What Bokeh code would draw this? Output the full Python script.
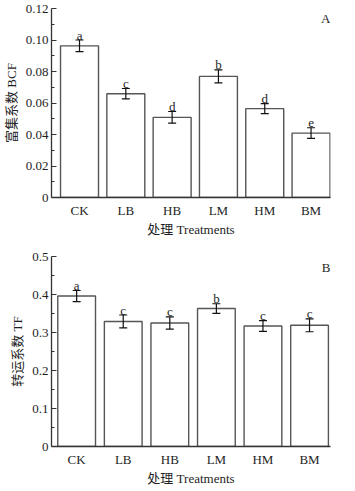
from bokeh.plotting import figure
from bokeh.models import ColumnDataSource, Whisker, TeeHead, FixedTicker, NumeralTickFormatter, Label
from bokeh.layouts import column
from bokeh.embed import file_html
from bokeh.resources import INLINE
from bokeh.core.properties import value

categories = ["CK", "LB", "HB", "LM", "HM", "BM"]

bcf_values = [0.0963, 0.0659, 0.0509, 0.0769, 0.0564, 0.0409]
bcf_errors = [0.0037, 0.0033, 0.0037, 0.0041, 0.0032, 0.0034]
bcf_letters = ["a", "c", "d", "b", "d", "e"]
bcf_ticks = [0, 0.02, 0.04, 0.06, 0.08, 0.10, 0.12]
bcf_minor = [0.01, 0.03, 0.05, 0.07, 0.09, 0.11]

tf_values = [0.396, 0.329, 0.325, 0.363, 0.317, 0.319]
tf_errors = [0.0145, 0.017, 0.016, 0.0127, 0.014, 0.017]
tf_letters = ["a", "c", "c", "b", "c", "c"]
tf_ticks = [0, 0.1, 0.2, 0.3, 0.4, 0.5]
tf_minor = [0.05, 0.15, 0.25, 0.35, 0.45]

SERIF = "Liberation Serif, Noto Sans CJK SC"
TXT = "#1e1e1e"
AX = "#333333"


def make_panel(vals, errs, letters, ticks, minor, fmt, ylabel, tag,
               x_start, x_end, bar_w, height, top, bottom, tag_dy, tag_dx):
    xs = list(range(len(categories)))
    src = ColumnDataSource(dict(
        x=xs, top=vals,
        upper=[v + e for v, e in zip(vals, errs)],
        lower=[v - e for v, e in zip(vals, errs)],
        lab=letters,
    ))
    p = figure(width=339, height=height, output_backend="svg", toolbar_location=None,
               x_range=(x_start, x_end), y_range=(ticks[0], ticks[-1]),
               min_border_left=46, min_border_right=339 - 46 - 284,
               min_border_top=top, min_border_bottom=bottom)
    p.outline_line_color = None
    p.grid.visible = False
    p.background_fill_color = "white"
    p.border_fill_color = "white"

    p.vbar(x="x", top="top", bottom=0, width=bar_w, source=src,
           fill_color="white", line_color="#555555", line_width=1.4)
    w = Whisker(base="x", upper="upper", lower="lower", source=src, level="overlay",
                line_color="#111111", line_width=1.2,
                upper_head=TeeHead(size=8, line_color="#111111", line_width=1.2),
                lower_head=TeeHead(size=8, line_color="#111111", line_width=1.2))
    p.add_layout(w)
    p.text(x="x", y="upper", text="lab", source=src, text_align="center",
           text_baseline="alphabetic", y_offset=-5, text_font=value(SERIF),
           text_font_size="13px", text_color=TXT)

    # axes
    xa = p.xaxis[0]
    xa.ticker = FixedTicker(ticks=xs)
    xa.major_label_overrides = {i: c for i, c in zip(xs, categories)}
    xa.major_tick_in = 0
    xa.major_tick_out = 0
    xa.minor_tick_line_color = None
    xa.axis_line_color = AX
    xa.axis_line_width = 1.3
    xa.major_label_standoff = 5
    xa.axis_label = "处理 Treatments"
    xa.axis_label_standoff = 1

    ya = p.yaxis[0]
    ya.ticker = FixedTicker(ticks=ticks, minor_ticks=minor)
    ya.formatter = NumeralTickFormatter(format=fmt)
    ya.major_label_overrides = {0: "0"}
    ya.major_tick_in = 5
    ya.major_tick_out = 0
    ya.minor_tick_in = 3
    ya.minor_tick_out = 0
    ya.axis_line_color = AX
    ya.axis_line_width = 1.3
    ya.major_tick_line_color = AX
    ya.minor_tick_line_color = AX
    ya.major_label_standoff = 3
    ya.axis_label = ylabel
    ya.axis_label_standoff = 4

    for ax in (xa, ya):
        ax.major_label_text_font = SERIF
        ax.major_label_text_font_size = "13px"
        ax.major_label_text_color = TXT
        ax.axis_label_text_font = SERIF
        ax.axis_label_text_font_size = "13px"
        ax.axis_label_text_font_style = "normal"
        ax.axis_label_text_color = TXT

    p.add_layout(Label(x=x_end, y=ticks[-1] * tag_dy, text=tag, x_offset=-tag_dx,
                       text_align="right", text_baseline="middle",
                       text_font=SERIF, text_font_size="13px", text_color=TXT))
    return p


pa = make_panel(bcf_values, bcf_errors, bcf_letters, bcf_ticks, bcf_minor, "0.00",
                "富集系数 BCF", "A", -0.605, 5.42, 0.82, 240, 8, 43, 0.947, 0)
pb = make_panel(tf_values, tf_errors, tf_letters, tf_ticks, tf_minor, "0.0",
                "转运系数 TF", "B", -0.54, 5.45, 0.81, 248, 16, 42, 0.942, 0)

layout = column(pa, pb, spacing=0)
open("out.html", "w").write(file_html(layout, INLINE))
